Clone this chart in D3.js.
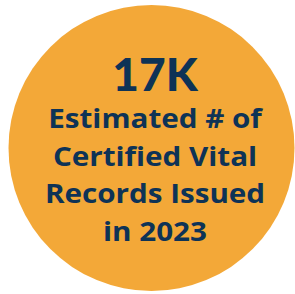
<!DOCTYPE html>
<html>
<head>
<meta charset="utf-8">
<script src="https://d3js.org/d3.v7.min.js"></script>
<style>
  html, body { margin: 0; padding: 0; background: #fff; }
  svg { display: block; }
</style>
</head>
<body>
<div id="vis-container"></div>
<script>
// Big number and caption lines
const statValue = ["17K"];
const captionLines = ["Estimated # of", "Certified Vital", "Records Issued", "in 2023"];

const width = 295;
const height = 294;

const svg = d3.select("#vis-container")
  .append("svg")
  .attr("width", width)
  .attr("height", height);

// Circle badge
svg.append("circle")
  .attr("cx", 151.5)
  .attr("cy", 148)
  .attr("r", 143)
  .attr("fill", "#F3A838");

// Headline number
svg.selectAll("text.stat")
  .data(statValue)
  .enter()
  .append("text")
  .attr("class", "stat")
  .attr("x", 155)
  .attr("y", 91)
  .attr("text-anchor", "middle")
  .attr("font-family", "Lato, 'Open Sans', sans-serif")
  .attr("font-weight", 900)
  .attr("font-size", 46)
  .attr("fill", "#0E3356")
  .text(d => d);

// Caption baselines spaced evenly; glyphs stretched a bit wider
const yLine = d3.scaleLinear()
  .domain([0, captionLines.length - 1])
  .range([128, 241]);

svg.selectAll("text.caption")
  .data(captionLines)
  .enter()
  .append("text")
  .attr("class", "caption")
  .attr("transform", (d, i) => `translate(155,${yLine(i)}) scale(1.14,1)`)
  .attr("text-anchor", "middle")
  .attr("font-family", "'Open Sans', sans-serif")
  .attr("font-weight", 700)
  .attr("font-size", 26)
  .attr("fill", "#0E3356")
  .text(d => d);
</script>
</body>
</html>
